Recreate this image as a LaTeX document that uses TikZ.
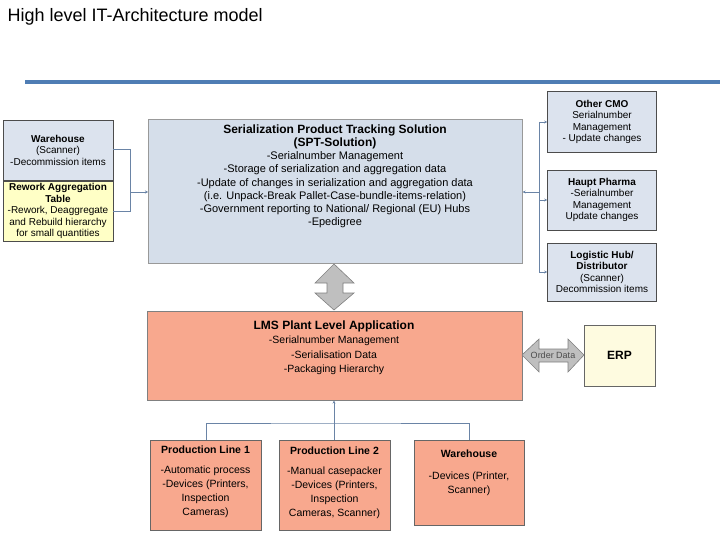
\documentclass[tikz,border=0pt]{standalone}
\usepackage{fontspec}
\setmainfont{Liberation Sans}
\usetikzlibrary{arrows.meta}
\definecolor{lblue}{HTML}{DCE3EE}
\definecolor{sptblue}{HTML}{D5DEEA}
\definecolor{salmon}{HTML}{F8A88E}
\definecolor{lyellow}{HTML}{FFFFC6}
\definecolor{erpy}{HTML}{FEFBE0}
\definecolor{barblue}{HTML}{4F7DB4}
\definecolor{conn}{HTML}{6A84A6}
\begin{document}
\begin{tikzpicture}[x=1pt,y=-1pt,
  box/.style={draw=black!70,line width=0.6pt,inner sep=2pt,align=center,font=\fontsize{10}{11.5}\selectfont},
  conn/.style={draw=conn,line width=0.8pt},
  arr/.style={conn,-{Stealth[length=3pt,width=3pt]}},
  fat/.style={fill=black!25,draw=black!50,line width=0.6pt}]
\useasboundingbox (0,0) rectangle (720,540);
\node[anchor=west,font=\fontsize{18}{20}\selectfont] (title) at (4,17) {High level IT-Architecture model};
\draw[barblue,line width=4pt] (25,82) -- (720,82);
% left boxes
\node[box,fill=lblue,minimum width=110pt,minimum height=60pt] (wh) at (58,150)
  {\textbf{Warehouse}\\(Scanner)\\-Decommission items};
\node[box,fill=lyellow,minimum width=110pt,minimum height=60pt] (rw) at (58,211)
  {\textbf{Rework Aggregation}\\\textbf{Table}\\-Rework, Deaggregate\\and Rebuild hierarchy\\for small quantities};
% SPT
\node[box,fill=sptblue,draw=black!40,minimum width=374pt,minimum height=144pt,anchor=north west,font=\fontsize{11}{13.5}\selectfont] (spt) at (148,119) {};
\node[align=center,anchor=north,font=\fontsize{11}{13.2}\selectfont] (spttxt) at (335,121)
  {\textbf{\fontsize{12}{15}\selectfont Serialization Product Tracking Solution}\\
   \textbf{\fontsize{12}{15}\selectfont (SPT-Solution)}\\
   -Serialnumber Management\\
   -Storage of serialization and aggregation data\\
   -Update of changes in serialization and aggregation data\\
   (i.e. Unpack-Break Pallet-Case-bundle-items-relation)\\
   -Government reporting to National/ Regional (EU) Hubs\\
   -Epedigree};
% right boxes
\node[box,fill=lblue,minimum width=109pt,minimum height=61pt] (cmo) at (602,122)
  {\textbf{Other CMO}\\Serialnumber\\Management\\- Update changes};
\node[box,fill=lblue,minimum width=109pt,minimum height=60pt] (hp) at (602,200)
  {\textbf{Haupt Pharma}\\-Serialnumber\\Management\\Update changes};
\node[box,fill=lblue,minimum width=109pt,minimum height=58pt] (lh) at (602,272)
  {\textbf{Logistic Hub/}\\\textbf{Distributor}\\(Scanner)\\Decommission items};
% left connectors
\coordinate (lb) at (130,149);
\coordinate (lb2) at (130,211);
\coordinate (lm) at (130,192);
\draw[conn] (wh.east |- lb) -- (lb) -- (lb2) -- (rw.east |- lb2);
\draw[arr] (lm) -- (spt.west |- lm);
% right connectors
\coordinate (rt) at (539,122);
\coordinate (rb) at (539,272);
\coordinate (rm) at (539,192);
\draw[conn] (rt) -- (rb);
\draw[arr] (rt) -- (cmo.west |- rt);
\draw[arr] (539,200) -- (hp.west);
\draw[arr] (rb) -- (lh.west |- rb);
\draw[arr] (rm) -- (spt.east |- rm);
% vertical fat arrow
\draw[fat] (334,264) -- (354,283) -- (343,283) -- (343,293) -- (354,293) -- (334,310)
  -- (315,293) -- (327,293) -- (327,283) -- (315,283) -- cycle;
% LMS
\node[box,fill=salmon,draw=black!50,minimum width=375pt,minimum height=89pt,anchor=north west] (lms) at (147,311) {};
\node[align=center,anchor=north,font=\fontsize{10.5}{14.5}\selectfont] (lmstxt) at (334,317)
  {\textbf{\fontsize{12}{14}\selectfont LMS Plant Level Application}\\-Serialnumber Management\\-Serialisation Data\\-Packaging Hierarchy};
% ERP
\node[box,fill=erpy,draw=black!60,minimum width=71pt,minimum height=61pt,font=\bfseries\fontsize{12}{14}\selectfont] (erp) at (619.5,355.5) {ERP};
% order data arrow
\draw[fat] (522,355) -- (539,339) -- (539,349) -- (568,349) -- (568,339) -- (584,355)
  -- (568,372) -- (568,362) -- (539,362) -- (539,372) -- cycle;
\node[font=\fontsize{9}{10}\selectfont,text=black!70] (od) at (553,355) {Order Data};
% bottom boxes
\node[box,fill=salmon,draw=black!60,minimum width=111pt,minimum height=90pt,anchor=north west,align=center] (pl1) at (150,440) {};
\node[anchor=north,align=center,font=\fontsize{10.5}{14}\selectfont] (pl1t) at (205.5,442)
  {\textbf{Production Line 1}\\[6pt]-Automatic process\\-Devices (Printers,\\Inspection\\Cameras)};
\node[box,fill=salmon,draw=black!60,minimum width=111pt,minimum height=90pt,anchor=north west] (pl2) at (279,440) {};
\node[anchor=north,align=center,font=\fontsize{10.5}{14}\selectfont] (pl2t) at (334.5,443)
  {\textbf{Production Line 2}\\[6pt]-Manual casepacker\\-Devices (Printers,\\Inspection\\Cameras, Scanner)};
\node[box,fill=salmon,draw=black!60,minimum width=110pt,minimum height=85pt,anchor=north west] (wh2) at (414,440) {};
\node[anchor=north,align=center,font=\fontsize{10.5}{14}\selectfont] (wh2t) at (469,446)
  {\textbf{Warehouse}\\[8pt]-Devices (Printer,\\Scanner)};
% bottom connectors
\coordinate (bj) at (334,423);
\draw[conn] (pl1.north -| 206,0) |- (bj) -| (wh2.north -| 469,0);
\draw[conn] (pl2.north -| bj) -- (bj);
\draw[arr] (bj) -- (lms.south -| bj);
\end{tikzpicture}
\end{document}
